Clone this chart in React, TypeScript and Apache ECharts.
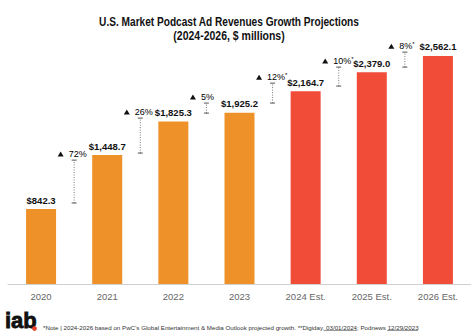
import React, { useEffect, useRef } from "react";
import * as echarts from "echarts";

const categories = ["2020", "2021", "2022", "2023", "2024 Est.", "2025 Est.", "2026 Est."];
const revenues = [842.3, 1448.7, 1825.3, 1925.2, 2164.7, 2379.0, 2562.1];
const isEstimate = [false, false, false, false, true, true, true];
const growthLabels = ["72%", "26%", "5%", "12%", "10%", "8%"];
const growthStar = [false, false, false, true, true, true];
// vertical extent (value units) of each dotted growth bracket
const growthLow = [910, 1471, 1920, 2033, 2224, 2437];
const growthHigh = [1392, 1864, 2033, 2257, 2437, 2605];

const titleLines = ["U.S. Market Podcast Ad Revenues Growth Projections", "(2024-2026, $ millions)"];
const footnote =
  "*Note | 2024-2026 based on PwC\u2019s Global Entertainment & Media Outlook projected growth. **Digiday, 03/01/2024; Podnews 12/29/2023";

const ORANGE = "#EE9128";
const RED = "#F04C38";
const FONT = "Liberation Sans, Arial, sans-serif";

export default function App() {
  const ref = useRef<HTMLDivElement>(null);
  useEffect(() => {
    const chart = echarts.init(ref.current!, null, { renderer: "svg" });
    const fmt = (v: number) =>
      "$" + v.toLocaleString("en-US", { minimumFractionDigits: 1, maximumFractionDigits: 1 });
    const growthData = growthLabels.map((_, i) => [i, growthLow[i], growthHigh[i]]);
    chart.setOption({
      animation: false,
      grid: { left: 8, right: -5, top: 17, bottom: 52 },
      xAxis: {
        type: "category",
        data: categories,
        axisLine: { lineStyle: { color: "#cfcfcf", width: 1 } },
        axisTick: { show: false },
        axisLabel: { color: "#666", fontSize: 9.5, margin: 7, fontFamily: FONT },
      },
      yAxis: { type: "value", min: 0, max: 3000, show: false, splitLine: { show: false } },
      series: [
        {
          type: "bar",
          barWidth: 30,
          data: revenues.map((v, i) => ({ value: v, itemStyle: { color: isEstimate[i] ? RED : ORANGE } })),
          label: {
            show: true,
            position: "top",
            distance: 4,
            formatter: (p: any) => fmt(p.value),
            fontSize: 9.5,
            fontWeight: "bold",
            color: "#111",
            fontFamily: FONT,
          },
        },
        {
          type: "custom",
          data: growthData,
          z: 5,
          renderItem: (params: any, api: any) => {
            const i = api.value(0);
            const xa = api.coord([i, 0])[0];
            const xb = api.coord([i + 1, 0])[0];
            const x = (xa + xb) / 2;
            const yLow = api.coord([i, api.value(1)])[1];
            const yHigh = api.coord([i, api.value(2)])[1];
            const ty = yHigh - 6;
            const lbl = growthLabels[params.dataIndex];
            const star = growthStar[params.dataIndex];
            return {
              type: "group",
              children: [
                {
                  type: "line",
                  shape: { x1: x, y1: yLow, x2: x, y2: yHigh },
                  style: { stroke: "#777", lineWidth: 1, lineDash: [1, 1.5] },
                },
                { type: "line", shape: { x1: x - 2.5, y1: yLow, x2: x + 2.5, y2: yLow }, style: { stroke: "#555", lineWidth: 1 } },
                { type: "line", shape: { x1: x - 2.5, y1: yHigh, x2: x + 2.5, y2: yHigh }, style: { stroke: "#555", lineWidth: 1 } },
                {
                  type: "polygon",
                  shape: { points: [[x - 16.5, ty + 2.5], [x - 10.5, ty + 2.5], [x - 13.5, ty - 2.5]] },
                  style: { fill: "#111" },
                },
                {
                  type: "text",
                  x: x - 5.5,
                  y: ty,
                  style: {
                    text: star ? `{a|${lbl}}{s|*}` : `{a|${lbl}}`,
                    textAlign: "left",
                    textVerticalAlign: "middle",
                    rich: {
                      a: { fontSize: 9, color: "#555", fontFamily: FONT, lineHeight: 11 },
                      s: { fontSize: 6, color: "#555", fontFamily: FONT, verticalAlign: "top", lineHeight: 7 },
                    },
                  },
                },
              ],
            };
          },
        },
      ],
      graphic: [
        {
          type: "text",
          x: 229,
          y: 22,
          scaleX: 0.81,
          style: {
            text: titleLines[0],
            textAlign: "center",
            textVerticalAlign: "middle",
            fontSize: 12.5,
            fontWeight: "bold",
            fontFamily: FONT,
            fill: "#111",
          },
        },
        {
          type: "text",
          x: 229,
          y: 36,
          scaleX: 0.84,
          style: {
            text: titleLines[1],
            textAlign: "center",
            textVerticalAlign: "middle",
            fontSize: 12.5,
            fontWeight: "bold",
            fontFamily: FONT,
            fill: "#111",
          },
        },
        {
          type: "text",
          x: 5,
          y: 331,
          style: {
            text: "iab",
            textAlign: "left",
            textVerticalAlign: "bottom",
            fontSize: 22,
            fontWeight: 900,
            fontFamily: FONT,
            fill: "#111",
            stroke: "#111",
            lineWidth: 0.8,
          },
        },
        { type: "circle", shape: { cx: 34.5, cy: 328.5, r: 2.4 }, style: { fill: "#E8412C" } },
        {
          type: "text",
          x: 43,
          y: 327,
          style: {
            text: footnote,
            textAlign: "left",
            textVerticalAlign: "middle",
            fontSize: 6.2,
            fontFamily: FONT,
            fill: "#333",
          },
        },
        { type: "line", shape: { x1: 324, y1: 330.5, x2: 357, y2: 330.5 }, style: { stroke: "#333", lineWidth: 0.5 } },
        { type: "line", shape: { x1: 387, y1: 330.5, x2: 418, y2: 330.5 }, style: { stroke: "#333", lineWidth: 0.5 } },
      ],
    });
    return () => chart.dispose();
  }, []);
  return <div ref={ref} style={{ width: 471, height: 336, position: "absolute", left: 0, top: 0 }} />;
}
